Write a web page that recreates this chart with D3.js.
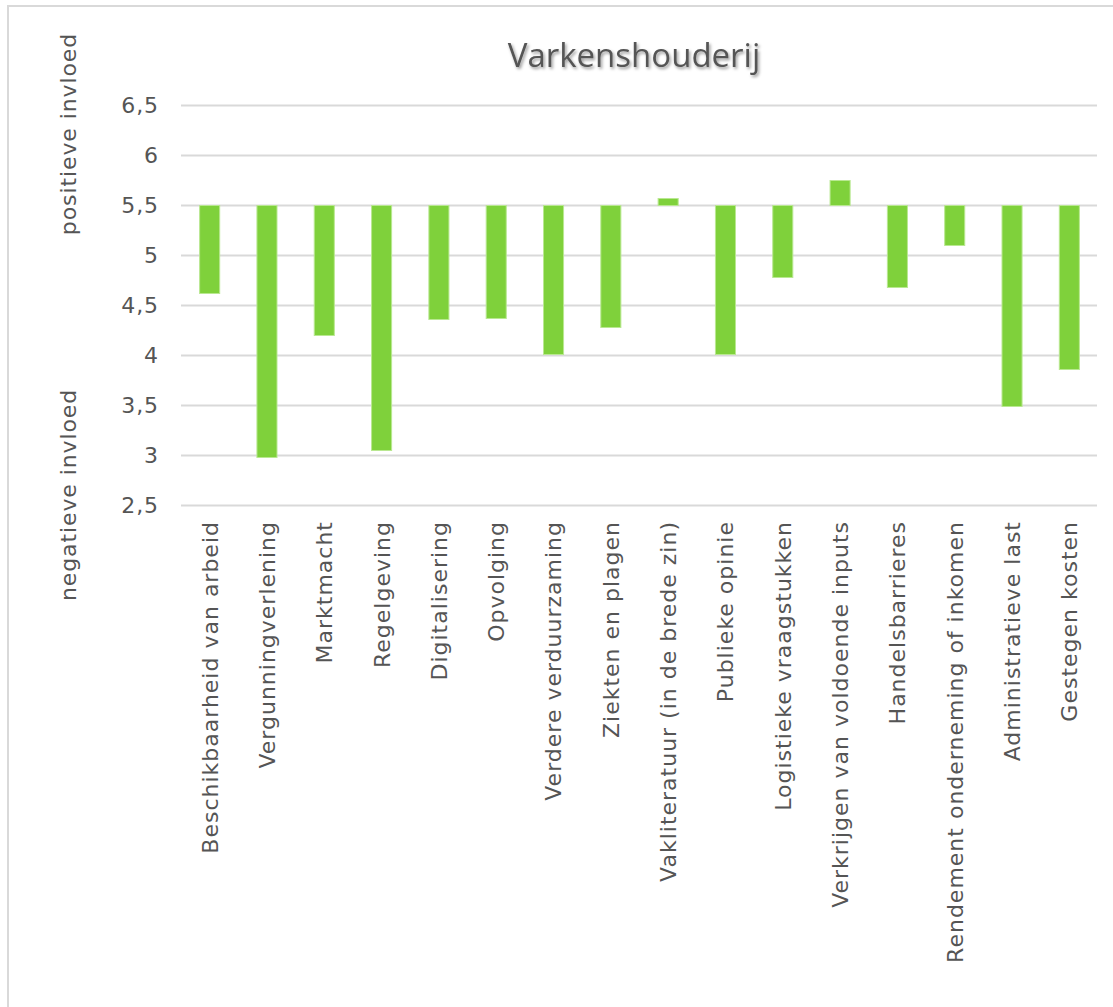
<!DOCTYPE html>
<html>
<head>
<meta charset="utf-8">
<script src="https://cdn.jsdelivr.net/npm/d3@7"></script>
<style>
  html, body { margin: 0; padding: 0; background: #ffffff; }
  svg { display: block; }
</style>
</head>
<body>
<svg id="chart" width="1113" height="1007"></svg>
<script>
// ---- data ----
const title = "Varkenshouderij";
const categories = [
  "Beschikbaarheid van arbeid",
  "Vergunningverlening",
  "Marktmacht",
  "Regelgeving",
  "Digitalisering",
  "Opvolging",
  "Verdere verduurzaming",
  "Ziekten en plagen",
  "Vakliteratuur (in de brede zin)",
  "Publieke opinie",
  "Logistieke vraagstukken",
  "Verkrijgen van voldoende inputs",
  "Handelsbarrieres",
  "Rendement onderneming of inkomen",
  "Administratieve last",
  "Gestegen kosten"
];
const values = [4.62, 2.98, 4.20, 3.05, 4.36, 4.37, 4.01, 4.28, 5.57, 4.01, 4.78, 5.75, 4.68, 5.10, 3.49, 3.86];
const baselineValue = 5.5;
const yTicks = [2.5, 3, 3.5, 4, 4.5, 5, 5.5, 6, 6.5];
const yTickLabels = ["2,5", "3", "3,5", "4", "4,5", "5", "5,5", "6", "6,5"];
const axisTitleTop = "positieve invloed";
const axisTitleBottom = "negatieve invloed";

// ---- drawing ----
const svg = d3.select("#chart");
const font = "'DejaVu Sans', Verdana, sans-serif";
const textColor = "#555555";

const defs = svg.append("defs");
const f = defs.append("filter").attr("id", "shadow")
  .attr("x", "-10%").attr("y", "-30%").attr("width", "130%").attr("height", "180%");
f.append("feDropShadow").attr("dx", 1.5).attr("dy", 2).attr("stdDeviation", 1.6)
  .attr("flood-color", "#000").attr("flood-opacity", 0.4);

// outer border
svg.append("rect")
  .attr("x", 8).attr("y", 6).attr("width", 1300).attr("height", 1300)
  .attr("fill", "none").attr("stroke", "#d9d9d9").attr("stroke-width", 2);

const x = d3.scaleBand()
  .domain(categories)
  .range([181, 1098])
  .paddingInner(0.65)
  .paddingOuter(0.325);

const y = d3.scaleLinear()
  .domain([2.5, 6.5])
  .range([505.5, 105.5]);

// gridlines
svg.append("g").selectAll("line")
  .data(yTicks)
  .join("line")
  .attr("x1", 181).attr("x2", 1097)
  .attr("y1", d => y(d)).attr("y2", d => y(d))
  .attr("stroke", "#d9d9d9").attr("stroke-width", 2);

// y tick labels
svg.append("g").selectAll("text")
  .data(yTicks)
  .join("text")
  .attr("x", 159)
  .attr("y", d => y(d))
  .attr("dy", "0.36em")
  .attr("text-anchor", "end")
  .attr("font-family", font)
  .attr("font-size", 22)
  .attr("letter-spacing", 0.9)
  .attr("fill", textColor)
  .text((d, i) => yTickLabels[i]);

// bars
svg.append("g").selectAll("rect")
  .data(values)
  .join("rect")
  .attr("x", (d, i) => x(categories[i]))
  .attr("width", x.bandwidth())
  .attr("y", d => Math.min(y(d), y(baselineValue)))
  .attr("height", d => Math.abs(y(d) - y(baselineValue)))
  .attr("fill", "#7fd13b")
  .attr("stroke", "#b9e891")
  .attr("stroke-width", 1);

// category labels
svg.append("g").selectAll("text")
  .data(categories)
  .join("text")
  .attr("transform", d => `translate(${x(d) + x.bandwidth() / 2},521) rotate(-90)`)
  .attr("dy", "0.36em")
  .attr("text-anchor", "end")
  .attr("font-family", font)
  .attr("font-size", 22)
  .attr("letter-spacing", 1.0)
  .attr("fill", textColor)
  .text(d => d);

// axis titles
svg.append("text")
  .attr("transform", "translate(76,134) rotate(-90)")
  .attr("text-anchor", "middle")
  .attr("font-family", font)
  .attr("font-size", 22)
  .attr("letter-spacing", 0.9)
  .attr("fill", textColor)
  .text(axisTitleTop);

svg.append("text")
  .attr("transform", "translate(76,495) rotate(-90)")
  .attr("text-anchor", "middle")
  .attr("font-family", font)
  .attr("font-size", 22)
  .attr("letter-spacing", 0.9)
  .attr("fill", textColor)
  .text(axisTitleBottom);

// title
svg.append("text")
  .attr("x", 634)
  .attr("y", 67)
  .attr("text-anchor", "middle")
  .attr("font-family", "'Open Sans', 'Noto Sans', sans-serif")
  .attr("font-size", 33)
  .attr("fill", textColor)
  .attr("filter", "url(#shadow)")
  .text(title);
</script>
</body>
</html>
